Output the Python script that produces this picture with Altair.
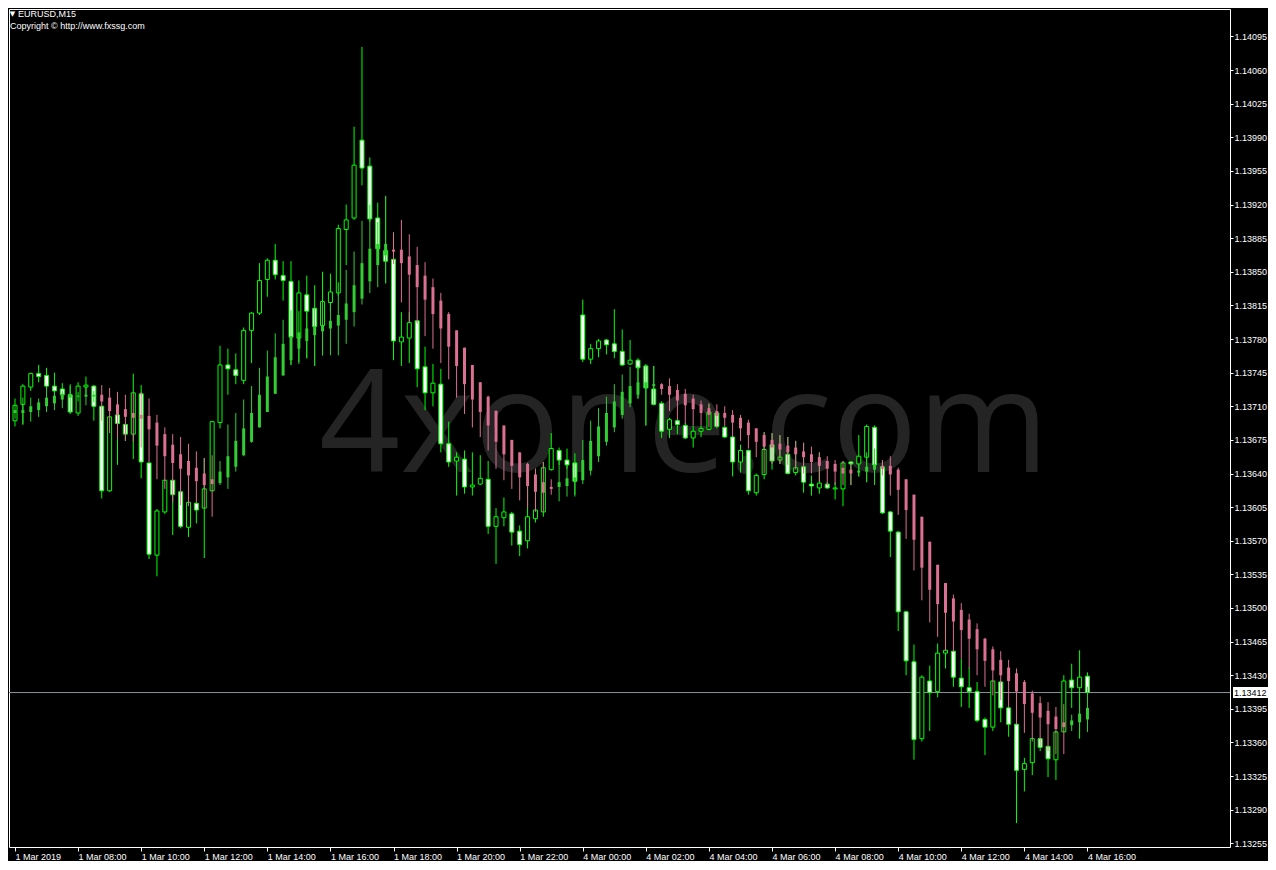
import altair as alt
import pandas as pd
import numpy as np

# ---------------- data (EURUSD M15) ----------------
candle_open = [
    1.13695, 1.13712, 1.13730, 1.13744, 1.13742, 1.13731, 1.13728, 1.13722, 1.13703, 1.13730,
    1.13731, 1.13710, 1.13622, 1.13701, 1.13691, 1.13681, 1.13723, 1.13651, 1.13555, 1.13600,
    1.13633, 1.13621, 1.13584, 1.13609, 1.13604, 1.13622, 1.13693, 1.13753, 1.13748, 1.13737,
    1.13789, 1.13807, 1.13842, 1.13862, 1.13846, 1.13840, 1.13781, 1.13826, 1.13812, 1.13794,
    1.13818, 1.13828, 1.13894, 1.13906, 1.13987, 1.13960, 1.13906, 1.13872, 1.13863, 1.13777,
    1.13781, 1.13799, 1.13751, 1.13724, 1.13733, 1.13671, 1.13653, 1.13655, 1.13626, 1.13629,
    1.13634, 1.13585, 1.13594, 1.13598, 1.13580, 1.13570, 1.13593, 1.13600, 1.13644, 1.13664,
    1.13654, 1.13651, 1.13805, 1.13759, 1.13770, 1.13779, 1.13775, 1.13767, 1.13754, 1.13758,
    1.13752, 1.13728, 1.13713, 1.13686, 1.13695, 1.13690, 1.13677, 1.13684, 1.13686, 1.13703,
    1.13688, 1.13678, 1.13652, 1.13664, 1.13620, 1.13639, 1.13670, 1.13654, 1.13660, 1.13641,
    1.13647, 1.13629, 1.13625, 1.13629, 1.13624, 1.13624, 1.13652, 1.13650, 1.13657, 1.13688,
    1.13647, 1.13600, 1.13579, 1.13496, 1.13444, 1.13364, 1.13424, 1.13413, 1.13453, 1.13455,
    1.13427, 1.13417, 1.13413, 1.13384, 1.13376, 1.13423, 1.13396, 1.13379, 1.13332, 1.13339,
    1.13364, 1.13356, 1.13342, 1.13371, 1.13425, 1.13417, 1.13429]

candle_high = [
    1.13718, 1.13733, 1.13745, 1.13753, 1.13750, 1.13745, 1.13734, 1.13733, 1.13735, 1.13741,
    1.13732, 1.13711, 1.13699, 1.13701, 1.13693, 1.13744, 1.13732, 1.13651, 1.13603, 1.13633,
    1.13633, 1.13622, 1.13610, 1.13610, 1.13656, 1.13694, 1.13773, 1.13770, 1.13765, 1.13792,
    1.13808, 1.13859, 1.13864, 1.13879, 1.13861, 1.13861, 1.13841, 1.13846, 1.13836, 1.13850,
    1.13848, 1.13899, 1.13920, 1.14001, 1.14084, 1.13969, 1.13922, 1.13929, 1.13891, 1.13808,
    1.13808, 1.13799, 1.13772, 1.13754, 1.13749, 1.13694, 1.13662, 1.13664, 1.13662, 1.13659,
    1.13653, 1.13604, 1.13615, 1.13600, 1.13586, 1.13651, 1.13645, 1.13652, 1.13682, 1.13667,
    1.13666, 1.13661, 1.13821, 1.13775, 1.13780, 1.13780, 1.13811, 1.13790, 1.13779, 1.13760,
    1.13754, 1.13752, 1.13715, 1.13698, 1.13697, 1.13693, 1.13690, 1.13690, 1.13712, 1.13705,
    1.13689, 1.13678, 1.13670, 1.13665, 1.13640, 1.13683, 1.13682, 1.13680, 1.13678, 1.13674,
    1.13672, 1.13638, 1.13662, 1.13631, 1.13631, 1.13653, 1.13653, 1.13680, 1.13691, 1.13690,
    1.13654, 1.13601, 1.13580, 1.13497, 1.13462, 1.13430, 1.13440, 1.13463, 1.13458, 1.13455,
    1.13447, 1.13438, 1.13423, 1.13386, 1.13424, 1.13424, 1.13397, 1.13379, 1.13344, 1.13365,
    1.13365, 1.13356, 1.13372, 1.13430, 1.13442, 1.13456, 1.13433]

candle_low = [
    1.13689, 1.13691, 1.13726, 1.13735, 1.13726, 1.13721, 1.13718, 1.13702, 1.13700, 1.13721,
    1.13695, 1.13614, 1.13621, 1.13649, 1.13674, 1.13655, 1.13635, 1.13551, 1.13533, 1.13598,
    1.13576, 1.13583, 1.13574, 1.13588, 1.13552, 1.13622, 1.13687, 1.13722, 1.13733, 1.13733,
    1.13755, 1.13805, 1.13824, 1.13842, 1.13820, 1.13753, 1.13756, 1.13760, 1.13752, 1.13763,
    1.13809, 1.13825, 1.13857, 1.13904, 1.13940, 1.13902, 1.13867, 1.13838, 1.13758, 1.13752,
    1.13755, 1.13730, 1.13706, 1.13710, 1.13662, 1.13647, 1.13617, 1.13619, 1.13617, 1.13628,
    1.13577, 1.13546, 1.13585, 1.13565, 1.13554, 1.13562, 1.13589, 1.13595, 1.13643, 1.13649,
    1.13645, 1.13618, 1.13756, 1.13754, 1.13761, 1.13764, 1.13760, 1.13752, 1.13753, 1.13718,
    1.13690, 1.13711, 1.13677, 1.13677, 1.13681, 1.13676, 1.13667, 1.13678, 1.13685, 1.13687,
    1.13677, 1.13637, 1.13641, 1.13618, 1.13617, 1.13634, 1.13644, 1.13650, 1.13639, 1.13638,
    1.13620, 1.13617, 1.13619, 1.13624, 1.13613, 1.13606, 1.13628, 1.13637, 1.13631, 1.13628,
    1.13598, 1.13553, 1.13476, 1.13430, 1.13342, 1.13361, 1.13372, 1.13407, 1.13437, 1.13418,
    1.13397, 1.13396, 1.13381, 1.13347, 1.13372, 1.13381, 1.13366, 1.13276, 1.13309, 1.13326,
    1.13351, 1.13324, 1.13321, 1.13371, 1.13396, 1.13364, 1.13411]

candle_close = [
    1.13711, 1.13731, 1.13744, 1.13741, 1.13731, 1.13726, 1.13722, 1.13704, 1.13731, 1.13732,
    1.13710, 1.13622, 1.13699, 1.13692, 1.13681, 1.13724, 1.13652, 1.13556, 1.13601, 1.13633,
    1.13618, 1.13585, 1.13610, 1.13602, 1.13624, 1.13694, 1.13753, 1.13749, 1.13742, 1.13789,
    1.13807, 1.13841, 1.13862, 1.13847, 1.13841, 1.13782, 1.13828, 1.13809, 1.13793, 1.13819,
    1.13829, 1.13895, 1.13904, 1.13961, 1.13958, 1.13905, 1.13874, 1.13861, 1.13778, 1.13782,
    1.13797, 1.13749, 1.13724, 1.13734, 1.13671, 1.13652, 1.13657, 1.13626, 1.13628, 1.13635,
    1.13585, 1.13595, 1.13600, 1.13579, 1.13566, 1.13595, 1.13602, 1.13646, 1.13666, 1.13654,
    1.13649, 1.13632, 1.13759, 1.13770, 1.13778, 1.13774, 1.13767, 1.13753, 1.13758, 1.13750,
    1.13729, 1.13712, 1.13684, 1.13696, 1.13691, 1.13677, 1.13684, 1.13687, 1.13704, 1.13689,
    1.13678, 1.13652, 1.13664, 1.13622, 1.13638, 1.13665, 1.13653, 1.13657, 1.13640, 1.13646,
    1.13631, 1.13627, 1.13630, 1.13625, 1.13625, 1.13651, 1.13650, 1.13658, 1.13689, 1.13649,
    1.13599, 1.13580, 1.13496, 1.13445, 1.13363, 1.13428, 1.13412, 1.13453, 1.13456, 1.13428,
    1.13418, 1.13413, 1.13383, 1.13376, 1.13424, 1.13396, 1.13379, 1.13331, 1.13338, 1.13364,
    1.13355, 1.13343, 1.13371, 1.13424, 1.13417, 1.13428, 1.13412]

# smoothed Heiken-Ashi overlay (green = up, pink = down)
ha_open = [
    1.13703, 1.13703, 1.13704, 1.13706, 1.13710, 1.13713, 1.13717, 1.13719, 1.13720, 1.13720,
    1.13720, 1.13722, 1.13719, 1.13712, 1.13707, 1.13703, 1.13701, 1.13700, 1.13693, 1.13681,
    1.13670, 1.13660, 1.13653, 1.13646, 1.13640, 1.13634, 1.13630, 1.13636, 1.13647, 1.13659,
    1.13673, 1.13688, 1.13704, 1.13723, 1.13742, 1.13758, 1.13770, 1.13778, 1.13784, 1.13788,
    1.13791, 1.13794, 1.13800, 1.13808, 1.13822, 1.13840, 1.13857, 1.13867, 1.13873, 1.13873,
    1.13866, 1.13857, 1.13846, 1.13834, 1.13820, 1.13806, 1.13789, 1.13771, 1.13753, 1.13735,
    1.13720, 1.13705, 1.13690, 1.13675, 1.13662, 1.13650, 1.13639, 1.13631, 1.13626, 1.13626,
    1.13627, 1.13631, 1.13633, 1.13643, 1.13658, 1.13673, 1.13688, 1.13701, 1.13713, 1.13722,
    1.13729, 1.13731, 1.13733, 1.13731, 1.13727, 1.13723, 1.13718, 1.13712, 1.13708, 1.13705,
    1.13703, 1.13701, 1.13698, 1.13693, 1.13687, 1.13680, 1.13675, 1.13671, 1.13669, 1.13667,
    1.13663, 1.13660, 1.13657, 1.13653, 1.13650, 1.13646, 1.13644, 1.13641, 1.13642, 1.13644,
    1.13648, 1.13648, 1.13644, 1.13634, 1.13618, 1.13595, 1.13569, 1.13545, 1.13526, 1.13510,
    1.13498, 1.13488, 1.13478, 1.13468, 1.13457, 1.13446, 1.13438, 1.13432, 1.13423, 1.13411,
    1.13401, 1.13393, 1.13387, 1.13381, 1.13378, 1.13381, 1.13384]

ha_high = [
    1.13711, 1.13719, 1.13719, 1.13718, 1.13731, 1.13726, 1.13726, 1.13731, 1.13725, 1.13731,
    1.13726, 1.13732, 1.13729, 1.13725, 1.13722, 1.13724, 1.13725, 1.13718, 1.13701, 1.13688,
    1.13681, 1.13678, 1.13671, 1.13663, 1.13656, 1.13659, 1.13653, 1.13691, 1.13703, 1.13717,
    1.13731, 1.13750, 1.13768, 1.13786, 1.13800, 1.13810, 1.13809, 1.13809, 1.13812, 1.13819,
    1.13818, 1.13839, 1.13852, 1.13871, 1.13903, 1.13920, 1.13902, 1.13929, 1.13891, 1.13904,
    1.13889, 1.13876, 1.13860, 1.13843, 1.13828, 1.13808, 1.13789, 1.13771, 1.13753, 1.13735,
    1.13721, 1.13706, 1.13690, 1.13675, 1.13662, 1.13651, 1.13645, 1.13652, 1.13634, 1.13654,
    1.13649, 1.13651, 1.13675, 1.13695, 1.13708, 1.13720, 1.13733, 1.13743, 1.13751, 1.13752,
    1.13752, 1.13752, 1.13734, 1.13739, 1.13733, 1.13728, 1.13722, 1.13716, 1.13713, 1.13712,
    1.13710, 1.13706, 1.13701, 1.13696, 1.13687, 1.13683, 1.13682, 1.13680, 1.13678, 1.13674,
    1.13672, 1.13668, 1.13662, 1.13658, 1.13654, 1.13653, 1.13651, 1.13650, 1.13662, 1.13666,
    1.13654, 1.13658, 1.13646, 1.13634, 1.13618, 1.13595, 1.13569, 1.13545, 1.13526, 1.13514,
    1.13505, 1.13494, 1.13484, 1.13469, 1.13460, 1.13455, 1.13446, 1.13437, 1.13425, 1.13414,
    1.13408, 1.13402, 1.13397, 1.13400, 1.13389, 1.13399, 1.13418]

ha_low = [
    1.13697, 1.13691, 1.13694, 1.13699, 1.13704, 1.13706, 1.13708, 1.13704, 1.13715, 1.13711,
    1.13714, 1.13695, 1.13682, 1.13676, 1.13674, 1.13673, 1.13667, 1.13652, 1.13634, 1.13624,
    1.13610, 1.13607, 1.13606, 1.13609, 1.13604, 1.13595, 1.13628, 1.13624, 1.13642, 1.13658,
    1.13672, 1.13688, 1.13704, 1.13723, 1.13742, 1.13753, 1.13754, 1.13760, 1.13752, 1.13763,
    1.13763, 1.13763, 1.13775, 1.13793, 1.13816, 1.13828, 1.13834, 1.13838, 1.13858, 1.13818,
    1.13797, 1.13796, 1.13783, 1.13770, 1.13755, 1.13738, 1.13719, 1.13702, 1.13688, 1.13678,
    1.13664, 1.13645, 1.13633, 1.13624, 1.13612, 1.13604, 1.13600, 1.13600, 1.13618, 1.13611,
    1.13616, 1.13616, 1.13629, 1.13638, 1.13652, 1.13669, 1.13683, 1.13697, 1.13709, 1.13718,
    1.13690, 1.13712, 1.13722, 1.13705, 1.13696, 1.13691, 1.13690, 1.13690, 1.13688, 1.13688,
    1.13689, 1.13678, 1.13674, 1.13666, 1.13657, 1.13640, 1.13650, 1.13650, 1.13649, 1.13644,
    1.13640, 1.13640, 1.13631, 1.13627, 1.13628, 1.13628, 1.13628, 1.13637, 1.13631, 1.13628,
    1.13638, 1.13617, 1.13597, 1.13572, 1.13539, 1.13508, 1.13485, 1.13470, 1.13456, 1.13454,
    1.13447, 1.13437, 1.13430, 1.13418, 1.13409, 1.13404, 1.13397, 1.13379, 1.13370, 1.13361,
    1.13356, 1.13351, 1.13348, 1.13348, 1.13372, 1.13371, 1.13371]

ha_close = [
    1.13706, 1.13706, 1.13710, 1.13714, 1.13719, 1.13721, 1.13723, 1.13723, 1.13721, 1.13722,
    1.13722, 1.13715, 1.13705, 1.13701, 1.13699, 1.13698, 1.13697, 1.13686, 1.13669, 1.13658,
    1.13651, 1.13645, 1.13638, 1.13632, 1.13628, 1.13629, 1.13642, 1.13658, 1.13674, 1.13687,
    1.13703, 1.13722, 1.13741, 1.13761, 1.13775, 1.13783, 1.13787, 1.13791, 1.13793, 1.13794,
    1.13799, 1.13805, 1.13817, 1.13836, 1.13859, 1.13874, 1.13879, 1.13879, 1.13871, 1.13859,
    1.13847, 1.13834, 1.13821, 1.13806, 1.13791, 1.13772, 1.13752, 1.13733, 1.13717, 1.13704,
    1.13690, 1.13673, 1.13660, 1.13648, 1.13636, 1.13627, 1.13621, 1.13620, 1.13624, 1.13631,
    1.13635, 1.13636, 1.13654, 1.13674, 1.13689, 1.13703, 1.13715, 1.13725, 1.13731, 1.13735,
    1.13735, 1.13733, 1.13728, 1.13722, 1.13716, 1.13711, 1.13707, 1.13703, 1.13701, 1.13700,
    1.13698, 1.13693, 1.13687, 1.13680, 1.13673, 1.13668, 1.13667, 1.13665, 1.13662, 1.13660,
    1.13657, 1.13652, 1.13648, 1.13645, 1.13642, 1.13640, 1.13640, 1.13643, 1.13647, 1.13649,
    1.13645, 1.13639, 1.13623, 1.13602, 1.13571, 1.13542, 1.13519, 1.13504, 1.13495, 1.13486,
    1.13477, 1.13468, 1.13457, 1.13445, 1.13435, 1.13430, 1.13424, 1.13413, 1.13400, 1.13391,
    1.13386, 1.13379, 1.13374, 1.13376, 1.13383, 1.13390, 1.13396]

time_label_bars = [0, 8, 16, 24, 32, 40, 48, 56, 64, 72, 80, 88, 96, 104, 112, 120, 128, 136]
time_labels = ["1 Mar 2019", "1 Mar 08:00", "1 Mar 10:00", "1 Mar 12:00", "1 Mar 14:00",
               "1 Mar 16:00", "1 Mar 18:00", "1 Mar 20:00", "1 Mar 22:00", "4 Mar 00:00",
               "4 Mar 02:00", "4 Mar 04:00", "4 Mar 06:00", "4 Mar 08:00", "4 Mar 10:00",
               "4 Mar 12:00", "4 Mar 14:00", "4 Mar 16:00"]
price_ticks = [1.13255, 1.13290, 1.13325, 1.13360, 1.13395, 1.13430, 1.13465, 1.13500,
               1.13535, 1.13570, 1.13605, 1.13640, 1.13675, 1.13710, 1.13745, 1.13780,
               1.13815, 1.13850, 1.13885, 1.13920, 1.13955, 1.13990, 1.14025, 1.14060,
               1.14095]
last_price = 1.13412
symbol_title = "EURUSD,M15"
copyright_text = "Copyright \u00a9 http://www.fxssg.com"
watermark_text = "4xone.com"

# ---------------- build table ----------------
n = min(len(candle_open), len(candle_high), len(candle_low), len(candle_close),
        len(ha_open), len(ha_high), len(ha_low), len(ha_close))
df = pd.DataFrame({
    "i": np.arange(n),
    "o": candle_open[:n], "h": candle_high[:n], "l": candle_low[:n], "c": candle_close[:n],
    "ho": ha_open[:n], "hh": ha_high[:n], "hl": ha_low[:n], "hc": ha_close[:n],
})
df["body_fill"] = np.where(df["c"] > df["o"], "#000000", "#FFFFFF")
df["ha_color"] = np.where(df["hc"] >= df["ho"], "#32CD32", "#DB7093")

# whole svg must stay within 1260 x 854 so the page neither scrolls nor shrinks it
W, H = 1221, 838
PAD = {"left": 1, "top": 1, "right": 38, "bottom": 14}
FONT = "Liberation Sans"
xscale = alt.Scale(domain=[-0.126, 153.44], nice=False, zero=False)
yscale = alt.Scale(domain=[1.1325120, 1.1412356], nice=False, zero=False)

label_array = "[" + ",".join("'" + t + "'" for t in time_labels) + "]"
x_axis = alt.Axis(values=time_label_bars, labelExpr=label_array + "[round(datum.value/8)]",
                  labelAlign="left", labelBaseline="top", labelColor="white",
                  labelFont=FONT, labelFontSize=9, labelPadding=1, tickColor="white",
                  tickSize=4, domain=False, grid=False, title=None,
                  labelOverlap=False, labelFlush=False, labelBound=False)
y_axis = alt.Axis(orient="right", values=price_ticks, format=".5f", labelColor="white",
                  labelFont=FONT, labelFontSize=9, labelPadding=1, tickColor="white",
                  tickSize=3, domain=False, grid=False, title=None,
                  labelOverlap=False, labelFlush=False, labelBound=False)

X = alt.X("i:Q", scale=xscale, axis=x_axis)

def Y(field):
    return alt.Y(field + ":Q", scale=yscale, axis=y_axis)

one = pd.DataFrame({"p": [last_price], "t": [f"{last_price:.5f}"]})

watermark = alt.Chart(pd.DataFrame({"t": [watermark_text]})).mark_text(
    font="Open Sans", fontSize=142, color="#242424", align="center", baseline="alphabetic"
).encode(x=alt.value(675), y=alt.value(463), text="t:N")

price_line = alt.Chart(one).mark_rule(color="#8a929c", strokeWidth=1).encode(
    y=Y("p"), x=alt.value(0), x2=alt.value(W))

wicks = alt.Chart(df).mark_rule(color="#00FF00", strokeWidth=1).encode(
    x=X, y=Y("l"), y2="h")

bodies = alt.Chart(df).mark_bar(size=4, stroke="#00FF00", strokeWidth=1).encode(
    x=X, y=Y("o"), y2="c", fill=alt.Fill("body_fill:N", scale=None))

ha_wicks = alt.Chart(df).mark_rule(strokeWidth=1).encode(
    x=X, y=Y("hl"), y2="hh", color=alt.Color("ha_color:N", scale=None))

ha_bodies = alt.Chart(df).mark_bar(size=3).encode(
    x=X, y=Y("ho"), y2="hc", fill=alt.Fill("ha_color:N", scale=None))

price_box = alt.Chart(one).mark_rule(color="white", strokeWidth=11, strokeCap="butt").encode(
    y=Y("p"), x=alt.value(W + 3), x2=alt.value(W + 38))

price_txt = alt.Chart(one).mark_text(color="black", font=FONT, fontSize=9, align="left",
                                     baseline="middle").encode(
    y=Y("p"), x=alt.value(W + 4), text="t:N")

tri = alt.Chart(pd.DataFrame({"t": ["\u25bc"]})).mark_text(
    color="white", font="DejaVu Sans", fontSize=7, align="center", baseline="alphabetic"
).encode(x=alt.value(3.5), y=alt.value(7), text="t:N")

title1 = alt.Chart(pd.DataFrame({"t": [symbol_title]})).mark_text(
    color="white", font=FONT, fontSize=9, align="left", baseline="alphabetic"
).encode(x=alt.value(9), y=alt.value(8), text="t:N")

title2 = alt.Chart(pd.DataFrame({"t": [copyright_text]})).mark_text(
    color="white", font=FONT, fontSize=9, align="left", baseline="alphabetic"
).encode(x=alt.value(1), y=alt.value(20), text="t:N")

chart = alt.layer(
    watermark, price_line, wicks, bodies, ha_wicks, ha_bodies,
    price_box, price_txt, tri, title1, title2
).properties(
    width=W, height=H, background="black", padding=PAD,
    autosize=alt.AutoSizeParams(type="none"),
).configure_view(stroke="white", strokeWidth=1)

chart.save("out.html", embed_options={"renderer": "svg", "actions": False})
